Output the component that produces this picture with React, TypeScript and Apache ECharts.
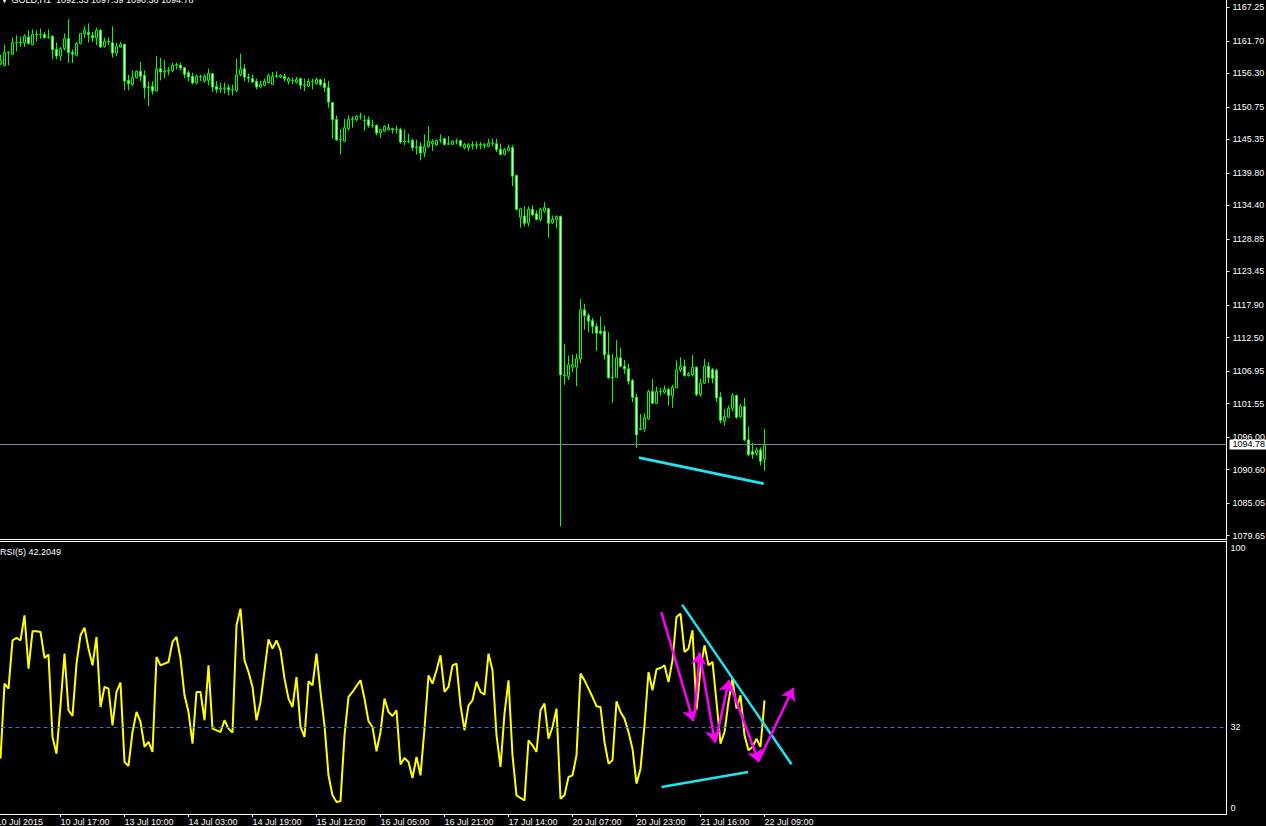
import React, { useEffect, useRef } from "react";
import * as echarts from "echarts";

const SYMBOL = "GOLD,H1";
const OPEN = [1157.91,1157.63,1159.73,1159.45,1161.39,1161.35,1161.39,1162.32,1161.06,1162.72,1162.75,1162.72,1162.25,1162.44,1160.28,1159.17,1160.40,1162.06,1159.73,1159.29,1161.23,1162.89,1163.05,1162.60,1162.16,1163.43,1160.78,1161.61,1161.39,1159.67,1160.66,1161.11,1155.14,1154.47,1155.59,1156.63,1155.97,1153.93,1154.14,1153.36,1157.08,1156.52,1156.68,1156.80,1157.63,1157.63,1157.24,1156.41,1155.80,1154.69,1155.80,1155.02,1155.14,1156.25,1154.14,1153.64,1153.86,1153.93,1153.60,1153.48,1156.08,1157.08,1155.69,1155.42,1154.97,1154.03,1154.31,1154.76,1154.47,1155.80,1155.69,1155.80,1154.97,1155.14,1154.86,1155.42,1154.31,1154.19,1154.97,1154.59,1155.25,1154.69,1153.93,1151.44,1148.67,1145.30,1145.07,1147.13,1148.67,1148.62,1149.17,1148.50,1148.62,1147.67,1147.67,1146.39,1146.73,1146.96,1147.13,1147.01,1146.96,1144.90,1145.07,1145.18,1143.97,1144.19,1143.14,1144.19,1144.64,1144.47,1145.18,1145.47,1144.52,1144.52,1145.02,1145.18,1143.97,1143.97,1144.47,1144.35,1144.47,1144.47,1144.19,1144.74,1144.64,1143.69,1142.86,1143.53,1143.97,1139.38,1132.46,1132.63,1131.46,1133.74,1133.02,1132.08,1133.45,1133.85,1131.53,1132.08,1132.58,1106.31,1106.03,1107.58,1107.58,1108.97,1117.10,1116.15,1115.32,1114.33,1113.55,1113.50,1109.63,1105.82,1105.92,1109.13,1107.74,1107.31,1105.37,1102.60,1097.40,1097.36,1099.01,1103.54,1101.60,1103.54,1103.43,1103.87,1102.88,1104.16,1107.14,1107.74,1106.20,1106.36,1107.58,1103.05,1104.92,1107.74,1107.19,1107.03,1102.60,1098.62,1099.29,1100.77,1102.88,1099.40,1101.05,1095.53,1093.58,1093.31,1093.87,1092.33];
const HIGH = [1159.40,1161.06,1159.95,1162.22,1162.60,1162.39,1162.77,1163.43,1163.60,1163.43,1163.71,1163.15,1163.60,1162.60,1161.39,1160.66,1162.89,1165.26,1160.28,1161.49,1162.99,1164.10,1164.59,1163.15,1163.88,1163.60,1162.22,1162.22,1164.10,1161.39,1161.49,1161.23,1156.08,1156.80,1156.80,1158.17,1156.80,1154.97,1154.97,1159.12,1158.84,1158.46,1157.34,1158.07,1158.07,1158.07,1157.34,1156.80,1156.41,1156.08,1156.08,1156.13,1157.08,1156.35,1155.02,1154.76,1154.76,1154.47,1154.42,1158.74,1159.57,1157.79,1156.25,1156.08,1155.42,1155.02,1155.42,1156.25,1156.52,1156.63,1156.13,1156.25,1155.69,1155.59,1155.69,1155.59,1155.42,1155.42,1155.42,1155.59,1155.42,1155.42,1155.02,1151.54,1149.33,1147.01,1148.78,1149.33,1149.17,1149.33,1149.78,1149.33,1149.17,1148.62,1147.84,1147.13,1147.67,1147.95,1147.29,1147.67,1147.29,1147.01,1146.30,1145.47,1145.30,1144.90,1146.18,1147.51,1145.35,1145.35,1146.18,1145.63,1145.90,1145.18,1145.47,1145.18,1144.74,1144.74,1145.02,1145.02,1144.90,1144.74,1145.47,1145.47,1145.47,1144.64,1143.91,1144.47,1144.35,1139.54,1134.02,1134.23,1134.23,1134.40,1133.57,1134.02,1134.95,1134.02,1132.74,1132.74,1132.74,1111.46,1109.52,1109.68,1109.80,1118.92,1118.09,1116.53,1115.77,1114.87,1115.99,1114.49,1113.38,1109.80,1112.12,1110.79,1108.80,1108.14,1105.65,1103.16,1099.84,1099.94,1103.83,1105.65,1104.37,1104.16,1104.54,1104.16,1104.65,1108.69,1109.23,1108.85,1106.75,1109.63,1107.69,1105.65,1108.97,1108.40,1107.48,1107.31,1103.43,1100.67,1101.22,1103.26,1103.05,1101.50,1102.50,1097.74,1095.03,1094.30,1094.30,1097.39];
const LOW = [1157.63,1157.46,1157.63,1159.34,1159.95,1160.66,1160.66,1161.06,1160.94,1161.61,1162.05,1162.05,1162.05,1158.62,1158.62,1158.34,1160.12,1158.01,1158.01,1159.12,1161.11,1162.16,1161.39,1161.49,1160.94,1160.50,1160.56,1160.94,1158.90,1159.17,1160.56,1153.48,1153.48,1154.19,1155.42,1155.02,1152.10,1150.87,1152.77,1153.31,1155.14,1155.42,1155.97,1156.52,1156.96,1156.80,1155.52,1155.02,1154.47,1154.47,1155.02,1154.76,1154.31,1153.20,1153.03,1153.03,1152.93,1152.65,1152.65,1153.20,1155.80,1154.97,1154.76,1154.76,1153.64,1153.93,1154.14,1154.59,1154.47,1155.52,1155.52,1154.97,1154.47,1154.47,1154.59,1153.64,1153.36,1154.03,1153.64,1154.42,1154.14,1153.20,1150.61,1145.47,1145.07,1142.86,1144.90,1146.84,1147.29,1148.39,1148.62,1146.73,1147.29,1147.29,1146.01,1145.63,1146.56,1146.84,1146.30,1146.30,1144.64,1144.35,1144.74,1143.41,1142.86,1141.87,1142.41,1143.91,1143.41,1144.24,1144.80,1144.35,1144.52,1144.52,1144.52,1144.07,1143.69,1143.41,1143.69,1143.69,1143.69,1143.91,1144.07,1144.19,1143.24,1142.70,1142.70,1143.36,1137.60,1133.57,1130.70,1130.92,1130.92,1132.58,1131.91,1131.75,1133.19,1129.04,1131.37,1130.63,1081.20,1104.65,1105.48,1106.75,1104.42,1108.24,1113.78,1113.38,1113.12,1110.23,1113.00,1108.85,1105.65,1101.60,1105.82,1107.58,1106.48,1104.70,1101.77,1094.20,1097.19,1096.79,1098.85,1101.60,1101.50,1102.88,1103.16,1101.22,1100.84,1104.16,1106.75,1106.03,1106.03,1106.03,1102.76,1102.71,1104.82,1104.92,1104.92,1101.77,1098.28,1097.90,1099.18,1100.27,1099.01,1099.18,1095.30,1092.81,1092.38,1092.93,1091.27,1090.36];
const CLOSE = [1158.34,1159.73,1159.67,1161.39,1161.35,1161.49,1162.44,1161.23,1162.72,1162.75,1162.77,1162.22,1162.32,1160.23,1159.17,1160.40,1162.06,1159.73,1159.50,1161.23,1162.89,1163.43,1162.72,1162.22,1163.43,1160.66,1161.61,1161.49,1159.67,1160.78,1161.11,1155.02,1154.59,1155.59,1156.63,1155.80,1153.93,1154.03,1153.36,1156.96,1156.52,1156.68,1156.80,1157.63,1157.74,1157.18,1156.13,1155.69,1154.69,1155.80,1155.75,1155.80,1156.25,1154.03,1153.64,1153.86,1153.82,1153.60,1153.56,1156.08,1156.96,1155.69,1155.52,1154.86,1154.03,1154.47,1154.97,1155.97,1155.80,1155.85,1155.97,1155.42,1155.42,1155.10,1155.30,1154.31,1154.42,1154.97,1154.93,1155.30,1154.47,1153.93,1151.54,1148.62,1145.30,1145.26,1147.29,1148.67,1148.78,1149.17,1149.13,1148.46,1147.67,1147.63,1146.39,1146.96,1147.51,1147.29,1147.01,1146.97,1144.90,1145.07,1145.03,1143.97,1144.07,1143.08,1144.19,1145.02,1145.02,1145.18,1145.30,1144.52,1144.64,1145.02,1145.07,1144.35,1144.47,1144.47,1144.35,1144.47,1144.43,1144.35,1144.74,1144.70,1143.69,1142.86,1143.69,1143.97,1139.26,1133.74,1133.85,1131.46,1133.74,1132.86,1132.08,1133.74,1134.02,1131.46,1132.08,1132.58,1106.31,1106.20,1107.97,1108.02,1108.97,1117.10,1116.15,1115.21,1114.33,1113.22,1113.22,1109.63,1105.82,1105.92,1109.13,1107.74,1107.31,1105.25,1102.60,1096.36,1097.24,1099.18,1103.54,1101.60,1103.54,1103.50,1103.87,1102.88,1104.26,1107.14,1107.69,1106.20,1106.48,1107.58,1103.05,1104.92,1107.74,1105.82,1105.75,1102.50,1098.73,1099.40,1100.77,1102.88,1099.29,1101.05,1095.53,1093.09,1093.09,1093.87,1091.98,1094.78];
const RSI = [20.08,48.58,46.68,65.04,65.93,65.04,74.54,54.28,68.46,68.46,68.21,58.33,59.60,28.31,21.98,40.35,59.98,38.45,36.29,56.18,66.94,69.85,61.88,55.54,66.31,39.71,47.31,46.68,32.75,45.41,48.96,18.82,17.30,30.21,37.81,34.01,24.52,26.41,22.61,58.71,55.54,56.18,56.81,64.41,66.31,58.08,44.15,37.81,25.78,45.41,45.41,34.65,55.54,31.48,30.85,30.21,34.65,31.48,29.96,70.74,77.07,57.44,53.01,47.31,34.65,41.61,53.64,65.42,61.88,65.04,61.24,50.48,42.88,39.71,51.11,32.11,28.31,49.46,47.94,59.98,45.41,32.75,13.75,6.15,3.62,3.87,28.95,43.51,45.41,47.69,49.84,42.88,34.27,32.11,22.87,30.21,42.88,37.81,36.29,38.45,17.90,20.33,18.82,12.74,20.71,13.75,31.48,51.74,48.58,53.64,59.34,45.41,47.31,55.54,56.18,40.35,30.85,40.35,42.25,49.21,45.41,44.40,59.98,53.64,28.95,16.92,37.18,49.84,21.35,6.15,5.14,4.25,27.05,25.15,22.61,38.45,40.98,27.68,32.11,39.08,4.88,6.15,13.12,13.75,21.35,52.38,49.84,46.68,43.51,39.97,39.71,26.41,18.18,19.45,41.87,37.81,35.28,30.21,23.88,10.58,16.28,32.75,53.01,46.05,54.02,54.53,55.54,49.21,57.44,73.91,75.18,60.61,61.88,68.84,38.45,54.28,63.14,55.54,56.81,41.61,25.78,30.21,41.61,50.48,39.08,44.15,28.95,23.25,24.52,27.68,24.52,42.2049];

const TIME_LABELS = ["10 Jul 2015","10 Jul 17:00","13 Jul 10:00","14 Jul 03:00","14 Jul 19:00","15 Jul 12:00","16 Jul 05:00","16 Jul 21:00","17 Jul 14:00","20 Jul 07:00","20 Jul 23:00","21 Jul 16:00","22 Jul 09:00"];
const LABEL_STEP = 16;
const PRICE_LABELS = [1167.25,1161.70,1156.30,1150.75,1145.35,1139.80,1134.40,1128.85,1123.45,1117.90,1112.50,1106.95,1101.55,1096.00,1090.60,1085.05,1079.65];
const RSI_LEVEL = 32;
const RSI_LABELS = [100, 32, 1.5];
const LAST_PRICE = 1094.78;

// drawn objects (bar index, value)
const PRICE_TRENDS = [[[159.6, 1092.59], [190.8, 1088.28]]];
const RSI_TRENDS = [
  [[170.4, 78.61], [197.75, 17.93]],
  [[165.25, 9.31], [186.9, 15.0]],
];
const RSI_ARROWS = [
  [[165.2, 75.8], [173.2, 34.27]],
  [[173.5, 37.31], [174.8, 60.37]],
  [[174.8, 59.99], [178.6, 26.18]],
  [[178.75, 26.41], [182.1, 49.85]],
  [[182.1, 49.47], [189.6, 18.81]],
  [[189.6, 19.45], [198.2, 46.92]],
];

const FONT = "Liberation Sans";
const TOTAL_SLOTS = 308;

export default function App() {
  const ref = useRef<HTMLDivElement>(null);
  useEffect(() => {
    if (!ref.current) return;
    const chart = echarts.init(ref.current, undefined, { renderer: "svg" });
    const categories = Array.from({ length: TOTAL_SLOTS }, (_, i) => String(i - 1));
    const candles = OPEN.map((o, i) => [i + 1, o, CLOSE[i], LOW[i], HIGH[i]]);
    const rsiData = RSI.map((v, i) => [i + 1, v]);
    const showTime = (idx: number) => idx % LABEL_STEP === 0 && idx / LABEL_STEP < TIME_LABELS.length;
    const white = "#ffffff";
    const last = OPEN.length - 1;
    const header = `${SYMBOL}  ${OPEN[last].toFixed(2)} ${HIGH[last].toFixed(2)} ${LOW[last].toFixed(2)} ${CLOSE[last].toFixed(2)}`;

    chart.setOption({
      animation: false,
      backgroundColor: "#000000",
      grid: [
        { left: -5.5, width: 1232, top: 0, height: 539, outerBoundsMode: "none", containLabel: false },
        { left: -5.5, width: 1232, top: 541, height: 273, outerBoundsMode: "none", containLabel: false },
      ],
      xAxis: [
        {
          type: "category", gridIndex: 0, data: categories, boundaryGap: true,
          axisLine: { show: true, onZero: false, lineStyle: { color: white, width: 1 } },
          axisTick: { show: false }, axisLabel: { show: false }, splitLine: { show: false },
        },
        {
          type: "category", gridIndex: 1, data: categories, boundaryGap: true, position: "bottom",
          axisLine: { show: true, onZero: false, lineStyle: { color: white, width: 1 } },
          axisTick: { show: true, interval: (i: number) => showTime(i), alignWithLabel: true, length: 3, lineStyle: { color: white } },
          axisLabel: {
            show: true, interval: (i: number) => showTime(i),
            formatter: (_v: string, i: number) => TIME_LABELS[i / LABEL_STEP] ?? "",
            align: "left", color: white, fontSize: 9, fontFamily: FONT, margin: 3,
          },
          splitLine: { show: false },
        },
        { type: "value", gridIndex: 0, min: -1.5, max: 306.5, show: false },
        {
          type: "value", gridIndex: 1, min: -1.5, max: 306.5, position: "top",
          axisLine: { show: true, onZero: false, lineStyle: { color: white, width: 1 } },
          axisTick: { show: false }, axisLabel: { show: false }, splitLine: { show: false },
        },
      ],
      yAxis: [
        {
          type: "value", gridIndex: 0, position: "right", min: 1079.10, max: 1168.46, scale: true,
          axisLine: { show: true, onZero: false, lineStyle: { color: white, width: 1 } },
          axisTick: { show: true, length: 3, customValues: PRICE_LABELS, lineStyle: { color: white } },
          axisLabel: {
            show: true, customValues: PRICE_LABELS, formatter: (v: number) => v.toFixed(2),
            color: white, fontSize: 9, fontFamily: FONT, margin: 6,
          },
          splitLine: { show: false },
        },
        {
          type: "value", gridIndex: 1, position: "right", min: -0.95, max: 102.77,
          axisLine: { show: true, onZero: false, lineStyle: { color: white, width: 1 } },
          axisTick: { show: false },
          axisLabel: {
            show: true, customValues: RSI_LABELS,
            formatter: (v: number) => (v < 5 ? "0" : String(Math.round(v))),
            color: white, fontSize: 9, fontFamily: FONT, margin: 4,
          },
          splitLine: { show: false },
        },
      ],
      series: [
        {
          type: "candlestick", xAxisIndex: 0, yAxisIndex: 0,
          encode: { x: 0, y: [1, 2, 3, 4] },
          data: candles, barWidth: 3, silent: true,
          itemStyle: {
            color: "#000000", color0: "#ffffff",
            borderColor: "#00ff00", borderColor0: "#00ff00", borderColorDoji: "#00ff00", borderWidth: 1,
          },
          markLine: {
            silent: true, symbol: ["none", "none"],
            lineStyle: { color: "#778899", width: 1, type: "solid" },
            label: {
              show: true, position: "end", formatter: LAST_PRICE.toFixed(2),
              color: "#000000", backgroundColor: "#ffffff", fontSize: 9, fontFamily: FONT,
              padding: [1, 3, 0, 3], distance: 3,
            },
            data: [{ yAxis: LAST_PRICE }],
          },
        },
        {
          type: "lines", coordinateSystem: "cartesian2d", xAxisIndex: 2, yAxisIndex: 0, silent: true, z: 5,
          symbol: ["none", "none"],
          lineStyle: { color: "#1ee6f0", width: 3, opacity: 1 },
          data: PRICE_TRENDS.map((c) => ({ coords: c })),
        },
        {
          type: "line", xAxisIndex: 1, yAxisIndex: 1, data: rsiData, showSymbol: false, symbol: "none", silent: true,
          lineStyle: { color: "#ffff00", width: 2 },
          markLine: {
            silent: true, symbol: ["none", "none"], label: { show: false },
            lineStyle: { color: "#4169e1", width: 1, type: [4, 3] },
            data: [{ yAxis: RSI_LEVEL }],
          },
        },
        {
          type: "lines", coordinateSystem: "cartesian2d", xAxisIndex: 3, yAxisIndex: 1, silent: true, z: 5,
          symbol: ["none", "none"],
          lineStyle: { color: "#1ee6f0", width: 2.5, opacity: 1 },
          data: RSI_TRENDS.map((c) => ({ coords: c })),
        },
        {
          type: "lines", coordinateSystem: "cartesian2d", xAxisIndex: 3, yAxisIndex: 1, silent: true, z: 6,
          symbol: ["none", "arrow"], symbolSize: 12,
          lineStyle: { color: "#ff00ff", width: 2.5, opacity: 1 },
          data: RSI_ARROWS.map((c) => ({ coords: c })),
        },
      ],
      graphic: [
        {
          type: "text", x: 0, y: 4, silent: true,
          style: { text: "▼ " + header, fill: white, fontSize: 9, fontFamily: FONT, verticalAlign: "bottom", align: "left" },
        },
        {
          type: "text", x: 0, y: 556, silent: true,
          style: { text: `RSI(5) ${RSI[last].toFixed(4)}`, fill: white, fontSize: 9, fontFamily: FONT, verticalAlign: "bottom", align: "left" },
        },
      ],
    });
    return () => chart.dispose();
  }, []);
  return <div ref={ref} style={{ position: "fixed", left: 0, top: 0, width: 1266, height: 826 }} />;
}
